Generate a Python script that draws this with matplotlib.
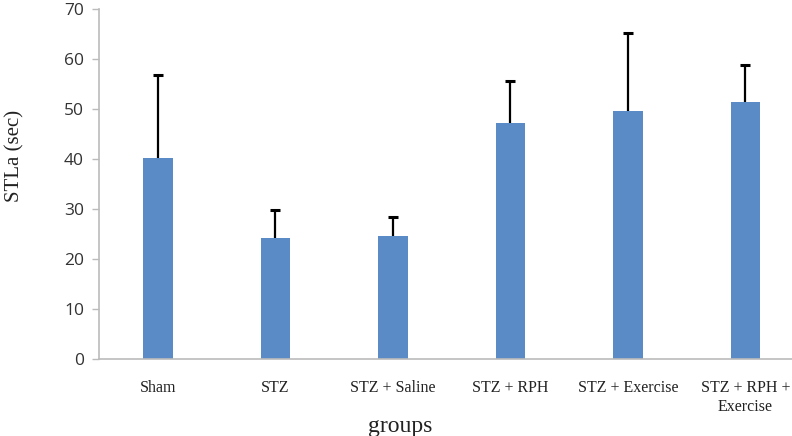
import matplotlib.pyplot as plt

# data
groups = ["Sham", "STZ", "STZ + Saline", "STZ + RPH", "STZ + Exercise", "STZ + RPH +\nExercise"]
means = [40.2, 24.2, 24.6, 47.2, 49.6, 51.3]
errors = [16.6, 5.6, 3.7, 8.4, 15.6, 7.4]
yticks = [0, 10, 20, 30, 40, 50, 60, 70]

fig = plt.figure(figsize=(7.92, 4.36), dpi=100)
# axes runs a little past the right edge, as in the reference
ax = fig.add_axes([99.3 / 792, 77 / 436, 704.7 / 792, 350 / 436])

x = list(range(len(groups)))
tops = [m + e for m, e in zip(means, errors)]
ax.bar(x, means, width=0.25, color="#5B8BC6", zorder=2)
# upper error bars only, cap at the top end
ax.vlines(x, means, tops, color="black", linewidth=1.6, zorder=3)
ax.plot(x, tops, linestyle="none", marker="_", markersize=6.5,
        markeredgewidth=2.2, color="black", zorder=3)

ax.set_xlim(-0.5, len(groups) - 0.5)
ax.set_ylim(0, 70)
ax.set_yticks(yticks)
ax.set_xticks(x)
ax.set_xticklabels(groups, family="Liberation Serif", fontsize=11.5, color="#222222",
                   linespacing=1.25)
ax.tick_params(axis="x", length=0, pad=15)
ax.tick_params(axis="y", length=5, width=1, color="#BBBBBB", labelsize=12.5,
               labelcolor="#333333", pad=6)
for lab in ax.get_yticklabels():
    lab.set_family("Open Sans")

for side in ["top", "right"]:
    ax.spines[side].set_visible(False)
ax.spines["left"].set_color("#BBBBBB")
ax.spines["bottom"].set_color("#BBBBBB")
ax.spines["left"].set_linewidth(1.2)
ax.spines["bottom"].set_linewidth(1.2)

fig.text(15 / 792, 1 - 156 / 436, "STLa (sec)", family="Liberation Serif", fontsize=15,
         color="#222222", ha="center", va="center", rotation=90)
fig.text(400 / 792, 1 - 426 / 436, "groups", family="Liberation Serif", fontsize=17,
         color="#222222", ha="center", va="center")

fig.savefig("out.png", dpi=100)
